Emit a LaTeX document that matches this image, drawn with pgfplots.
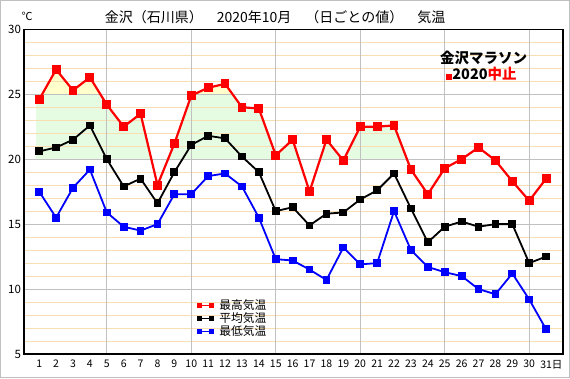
\documentclass[border=0pt]{standalone}
\usepackage{pgfplots}
\pgfplotsset{compat=1.18}
\usepackage{fontspec}
\setmainfont{Noto Sans CJK JP}
\definecolor{gridgray}{RGB}{192,192,192}
\definecolor{gridwheat}{RGB}{248,222,176}
\definecolor{fillgreen}{RGB}{230,252,226}
\definecolor{fillyellow}{RGB}{255,255,204}
\begin{document}
\begin{tikzpicture}
\draw[gridgray, line width=1pt] (0.5pt,0.5pt) rectangle (569.5pt,377.5pt);
\begin{axis}[
  set layers,
  at={(24pt,24pt)}, anchor=south west,
  scale only axis, width=539pt, height=324.7pt,
  xmin=0.1, xmax=32, ymin=5, ymax=30,
  axis line style={line width=1.5pt},
  xtick={1,...,31},
  xticklabels={1,2,3,4,5,6,7,8,9,10,11,12,13,14,15,16,17,18,19,20,21,22,23,24,25,26,27,28,29,30,31\rlap{日}},
  major tick length=0pt, minor tick length=0pt,
  ytick={5,10,...,30},
  minor ytick={6,7,8,9,11,12,13,14,16,17,18,19,21,22,23,24,26,27,28,29},
  ymajorgrids, yminorgrids,
  major grid style={gridgray, line width=1pt},
  minor grid style={gridwheat, line width=1pt},
  extra x ticks={5,10,15,20,25,30}, extra x tick labels={},
  extra x tick style={xmajorgrids=true, major grid style={gridgray, line width=1pt}},
  xticklabel style={font=\fontsize{10.5}{12}\selectfont, yshift=-2.5pt},
  yticklabel style={font=\fontsize{11.5}{13}\selectfont, xshift=0.5pt},
  /pgf/number format/assume math mode=true,
  legend style={draw=none, fill=none, at={(0.321,0.174)}, anchor=north west,
    font=\fontsize{11.75}{13}\selectfont, inner sep=0pt, row sep=-2.5pt,
    cells={anchor=west}, nodes={inner xsep=5pt}},
  legend image code/.code={
    \draw[#1, line width=1pt] (0pt,0pt) -- (12pt,0pt);
    \fill[#1] (-1.5pt,-1.5pt) rectangle (1.5pt,1.5pt) (10.5pt,-1.5pt) rectangle (13.5pt,1.5pt);
  },
]
% shaded areas (under the daily maximum, green 20-25, yellow above 25)
\addplot[fill=fillgreen, draw=none, forget plot, on layer=axis background]
  coordinates {(0.8,20) (0.8,25) (1,24.6) (1.174,25) (4.619,25) (5,24.2) (6,22.5) (7,23.5) (7.636,20)} -- cycle;
\addplot[fill=fillgreen, draw=none, forget plot, on layer=axis background]
  coordinates {(8.625,20) (9,21.2) (10,24.9) (10.167,25) (12.444,25) (13,24.0) (14,23.9) (15,20.3) (16,21.5) (16.375,20)} -- cycle;
\addplot[fill=fillgreen, draw=none, forget plot, on layer=axis background]
  coordinates {(17.625,20) (18,21.5) (18.9375,20)} -- cycle;
\addplot[fill=fillgreen, draw=none, forget plot, on layer=axis background]
  coordinates {(19.038,20) (20,22.5) (21,22.5) (22,22.6) (22.765,20)} -- cycle;
\addplot[fill=fillyellow, draw=none, forget plot, on layer=axis background]
  coordinates {(1.174,25) (2,26.9) (3,25.3) (4,26.3) (4.619,25)} -- cycle;
\addplot[fill=fillyellow, draw=none, forget plot, on layer=axis background]
  coordinates {(10.167,25) (11,25.5) (12,25.8) (12.444,25)} -- cycle;
% max
\addplot[red, line width=2.2pt, mark=square*, mark size=3.3pt, mark options={solid}]
  coordinates {(1,24.6)(2,26.9)(3,25.3)(4,26.3)(5,24.2)(6,22.5)(7,23.5)(8,18.0)(9,21.2)(10,24.9)(11,25.5)(12,25.8)(13,24.0)(14,23.9)(15,20.3)(16,21.5)(17,17.5)(18,21.5)(19,19.9)(20,22.5)(21,22.5)(22,22.6)(23,19.2)(24,17.3)(25,19.3)(26,20.0)(27,20.9)(28,19.9)(29,18.3)(30,16.8)(31,18.5)};
\addlegendentry{最高気温}
% mean
\addplot[black, line width=1.8pt, mark=square*, mark size=3pt]
  coordinates {(1,20.6)(2,20.9)(3,21.5)(4,22.6)(5,20.0)(6,17.9)(7,18.5)(8,16.6)(9,19.0)(10,21.1)(11,21.8)(12,21.6)(13,20.2)(14,19.0)(15,16.0)(16,16.3)(17,14.9)(18,15.8)(19,15.9)(20,16.9)(21,17.6)(22,18.9)(23,16.2)(24,13.6)(25,14.8)(26,15.2)(27,14.8)(28,15.0)(29,15.0)(30,12.0)(31,12.5)};
\addlegendentry{平均気温}
% min
\addplot[blue, line width=1.8pt, mark=square*, mark size=3pt]
  coordinates {(1,17.5)(2,15.5)(3,17.8)(4,19.2)(5,15.9)(6,14.8)(7,14.5)(8,15.0)(9,17.3)(10,17.3)(11,18.7)(12,18.9)(13,17.9)(14,15.5)(15,12.3)(16,12.2)(17,11.5)(18,10.7)(19,13.2)(20,11.9)(21,12.0)(22,16.0)(23,13.0)(24,11.7)(25,11.3)(26,11.0)(27,10.0)(28,9.6)(29,11.2)(30,9.2)(31,6.9)};
\addlegendentry{最低気温}
\end{axis}
\node[font=\fontsize{14}{16}\selectfont] at (275pt,361pt) {金沢（石川県）　2020年10月　（日ごとの値）　気温};
\node[font=\fontsize{11}{12}\selectfont] at (27pt,362pt) {℃};
\node[font=\bfseries\fontsize{14.5}{16}\selectfont] at (483.5pt,320pt) {金沢マラソン};
\node[font=\bfseries\fontsize{14.5}{16}\selectfont] at (481.5pt,304pt) {\textcolor{red}{\rule{6pt}{6pt}}2020\textcolor{red}{中止}};
\end{tikzpicture}
\end{document}
